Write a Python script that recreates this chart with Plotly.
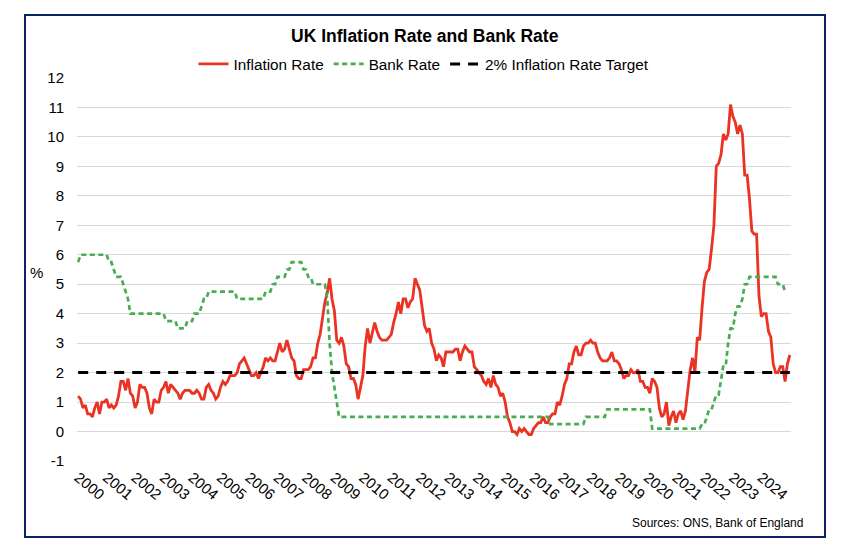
import plotly.graph_objects as go

# ---- Data (monthly rows, as plotted on a category axis) ----
# Inflation: Nov 1999 .. Nov 2024
inflation = [
    1.2, 1.1,
    0.8, 0.9, 0.6, 0.6, 0.5, 0.8, 1.0, 0.6, 1.0, 1.0, 1.1, 0.8,   # 2000
    0.9, 0.8, 0.9, 1.2, 1.7, 1.7, 1.4, 1.8, 1.3, 1.2, 0.8, 1.0,   # 2001
    1.6, 1.5, 1.5, 1.3, 0.8, 0.6, 1.1, 1.0, 1.0, 1.4, 1.5, 1.7,   # 2002
    1.3, 1.6, 1.5, 1.4, 1.3, 1.1, 1.3, 1.4, 1.4, 1.4, 1.3, 1.3,   # 2003
    1.4, 1.3, 1.1, 1.1, 1.5, 1.6, 1.4, 1.3, 1.1, 1.2, 1.5, 1.7,   # 2004
    1.6, 1.7, 1.9, 1.9, 1.9, 2.0, 2.3, 2.4, 2.5, 2.3, 2.1, 1.9,   # 2005
    1.9, 2.0, 1.8, 2.0, 2.2, 2.5, 2.4, 2.5, 2.4, 2.4, 2.7, 3.0,   # 2006
    2.7, 2.8, 3.1, 2.8, 2.5, 2.4, 1.9, 1.8, 1.8, 2.1, 2.1, 2.1,   # 2007
    2.2, 2.5, 2.5, 3.0, 3.3, 3.8, 4.4, 4.7, 5.2, 4.5, 4.1, 3.1,   # 2008
    3.0, 3.2, 2.9, 2.3, 2.2, 1.8, 1.8, 1.6, 1.1, 1.5, 1.9, 2.9,   # 2009
    3.5, 3.0, 3.4, 3.7, 3.4, 3.2, 3.1, 3.1, 3.1, 3.2, 3.3, 3.7,   # 2010
    4.0, 4.4, 4.0, 4.5, 4.5, 4.2, 4.4, 4.5, 5.2, 5.0, 4.8, 4.2,   # 2011
    3.6, 3.4, 3.5, 3.0, 2.8, 2.4, 2.6, 2.5, 2.2, 2.7, 2.7, 2.7,   # 2012
    2.7, 2.8, 2.8, 2.4, 2.7, 2.9, 2.8, 2.7, 2.7, 2.2, 2.1, 2.0,   # 2013
    1.9, 1.7, 1.6, 1.8, 1.5, 1.9, 1.6, 1.5, 1.2, 1.3, 1.0, 0.5,   # 2014
    0.3, 0.0, 0.0, -0.1, 0.1, 0.0, 0.1, 0.0, -0.1, -0.1, 0.1, 0.2,  # 2015
    0.3, 0.3, 0.5, 0.3, 0.3, 0.5, 0.6, 0.6, 1.0, 0.9, 1.2, 1.6,   # 2016
    1.8, 2.3, 2.3, 2.7, 2.9, 2.6, 2.6, 2.9, 3.0, 3.0, 3.1, 3.0,   # 2017
    3.0, 2.7, 2.5, 2.4, 2.4, 2.4, 2.5, 2.7, 2.4, 2.4, 2.3, 2.1,   # 2018
    1.8, 1.9, 1.9, 2.1, 2.0, 2.0, 2.1, 1.7, 1.7, 1.5, 1.5, 1.3,   # 2019
    1.8, 1.7, 1.5, 0.8, 0.5, 0.6, 1.0, 0.2, 0.5, 0.7, 0.3, 0.6,   # 2020
    0.7, 0.4, 0.7, 1.5, 2.1, 2.5, 2.0, 3.2, 3.1, 4.2, 5.1, 5.4,   # 2021
    5.5, 6.2, 7.0, 9.0, 9.1, 9.4, 10.1, 9.9, 10.1, 11.1, 10.7, 10.5,  # 2022
    10.1, 10.4, 10.1, 8.7, 8.7, 7.9, 6.8, 6.7, 6.7, 4.6, 3.9, 4.0,  # 2023
    4.0, 3.4, 3.2, 2.3, 2.0, 2.0, 2.2, 2.2, 1.7, 2.3, 2.6,        # 2024
]

# Bank Rate: Jan 2000 .. Nov 2024 (month-end)
bank_rate = (
    [5.75] + [6.0] * 11 +                                                     # 2000
    [6.0, 5.75, 5.75, 5.5, 5.25, 5.25, 5.25, 5.0, 4.75, 4.5, 4.0, 4.0] +      # 2001
    [4.0] * 12 +                                                              # 2002
    [4.0, 3.75, 3.75, 3.75, 3.75, 3.75, 3.5, 3.5, 3.5, 3.5, 3.75, 3.75] +     # 2003
    [3.75, 4.0, 4.0, 4.0, 4.25, 4.5, 4.5, 4.75, 4.75, 4.75, 4.75, 4.75] +     # 2004
    [4.75] * 7 + [4.5] * 5 +                                                  # 2005
    [4.5] * 7 + [4.75, 4.75, 4.75, 5.0, 5.0] +                                # 2006
    [5.25, 5.25, 5.25, 5.25, 5.5, 5.5, 5.75, 5.75, 5.75, 5.75, 5.75, 5.5] +   # 2007
    [5.5, 5.25, 5.25, 5.0, 5.0, 5.0, 5.0, 5.0, 5.0, 4.5, 3.0, 2.0] +          # 2008
    [1.5, 1.0] + [0.5] * 10 +                                                 # 2009
    [0.5] * 72 +                                                              # 2010-2015
    [0.5] * 7 + [0.25] * 5 +                                                  # 2016
    [0.25] * 10 + [0.5] * 2 +                                                 # 2017
    [0.5] * 7 + [0.75] * 5 +                                                  # 2018
    [0.75] * 12 +                                                             # 2019
    [0.75, 0.75] + [0.1] * 10 +                                               # 2020
    [0.1] * 11 + [0.25] +                                                     # 2021
    [0.25, 0.5, 0.75, 0.75, 1.0, 1.25, 1.25, 1.75, 2.25, 2.25, 3.0, 3.5] +    # 2022
    [3.5, 4.0, 4.25, 4.25, 4.5, 5.0, 5.0, 5.25, 5.25, 5.25, 5.25, 5.25] +     # 2023
    [5.25] * 7 + [5.0, 5.0, 5.0, 4.75]                                        # 2024
)

target_value = 2.0
year_labels = [str(y) for y in range(2000, 2025)]
y_ticks = list(range(-1, 13))
y_tick_labels = [str(v) for v in y_ticks]

rows_inf = list(range(len(inflation)))
rows_bank = list(range(len(bank_rate)))
target = [target_value] * len(inflation)
tick_rows = [12 * i for i in range(len(year_labels))]

FONT = "Liberation Sans, Arial, sans-serif"

fig = go.Figure()
fig.add_trace(go.Scatter(
    x=rows_inf, y=inflation, mode="lines", name="Inflation Rate",
    line=dict(color="#EA3323", width=2.8),
))
fig.add_trace(go.Scatter(
    x=rows_bank, y=bank_rate, mode="lines", name="Bank Rate",
    line=dict(color="#48AD52", width=2.7, dash="5px,3.5px"),
))
fig.add_trace(go.Scatter(
    x=rows_inf, y=target, mode="lines", name="2% Inflation Rate Target",
    line=dict(color="#000000", width=3, dash="10px,8px"),
))

# plot area on the page: x 77..791, y 78..461 (px); page has an 8px body margin
def px_x(p):
    return (p - 77) / 714.0

def px_y(p):
    return (461 - p) / 383.0

fig.update_layout(
    width=840, height=546,
    margin=dict(l=69, r=57, t=70, b=93),
    paper_bgcolor="white", plot_bgcolor="white",
    font=dict(family=FONT, size=15, color="#000000"),
    showlegend=True,
    legend=dict(
        orientation="h", x=px_x(424), xanchor="center",
        y=px_y(64), yanchor="middle",
        font=dict(family=FONT, size=15.3, color="#000000"),
        bgcolor="rgba(0,0,0,0)", itemwidth=30,
    ),
    xaxis=dict(
        range=[-0.5, len(inflation) - 0.5],
        tickmode="array", tickvals=tick_rows, ticktext=year_labels,
        tickangle=40, showgrid=False, zeroline=False, showline=False,
        ticks="", ticklabelstandoff=4,
        tickfont=dict(family=FONT, size=15, color="#000000"),
    ),
    yaxis=dict(
        range=[-1, 12], tickmode="array", tickvals=y_ticks, ticktext=y_tick_labels,
        showgrid=True, gridcolor="#D9D9D9", gridwidth=1,
        zeroline=False, showline=False, ticks="", ticklabelstandoff=12,
        tickfont=dict(family=FONT, size=15, color="#000000"),
    ),
    annotations=[
        dict(text="<b>UK Inflation Rate and Bank Rate</b>", xref="paper", yref="paper",
             x=px_x(425), y=px_y(36), xanchor="center", yanchor="middle",
             showarrow=False, font=dict(family=FONT, size=17.5, color="#000000")),
        dict(text="%", xref="paper", yref="paper",
             x=px_x(36), y=px_y(272), xanchor="center", yanchor="middle",
             showarrow=False, font=dict(family=FONT, size=15, color="#000000")),
        dict(text="Sources: ONS, Bank of England", xref="paper", yref="paper",
             x=px_x(805), y=px_y(523), xanchor="right", yanchor="middle",
             showarrow=False, font=dict(family=FONT, size=12, color="#000000")),
    ],
    shapes=[
        dict(type="rect", xref="paper", yref="paper",
             x0=px_x(25), x1=px_x(825), y0=px_y(537), y1=px_y(15),
             line=dict(color="#0B2468", width=2), fillcolor="rgba(0,0,0,0)", layer="below"),
    ],
)

fig.write_html("out.html")
